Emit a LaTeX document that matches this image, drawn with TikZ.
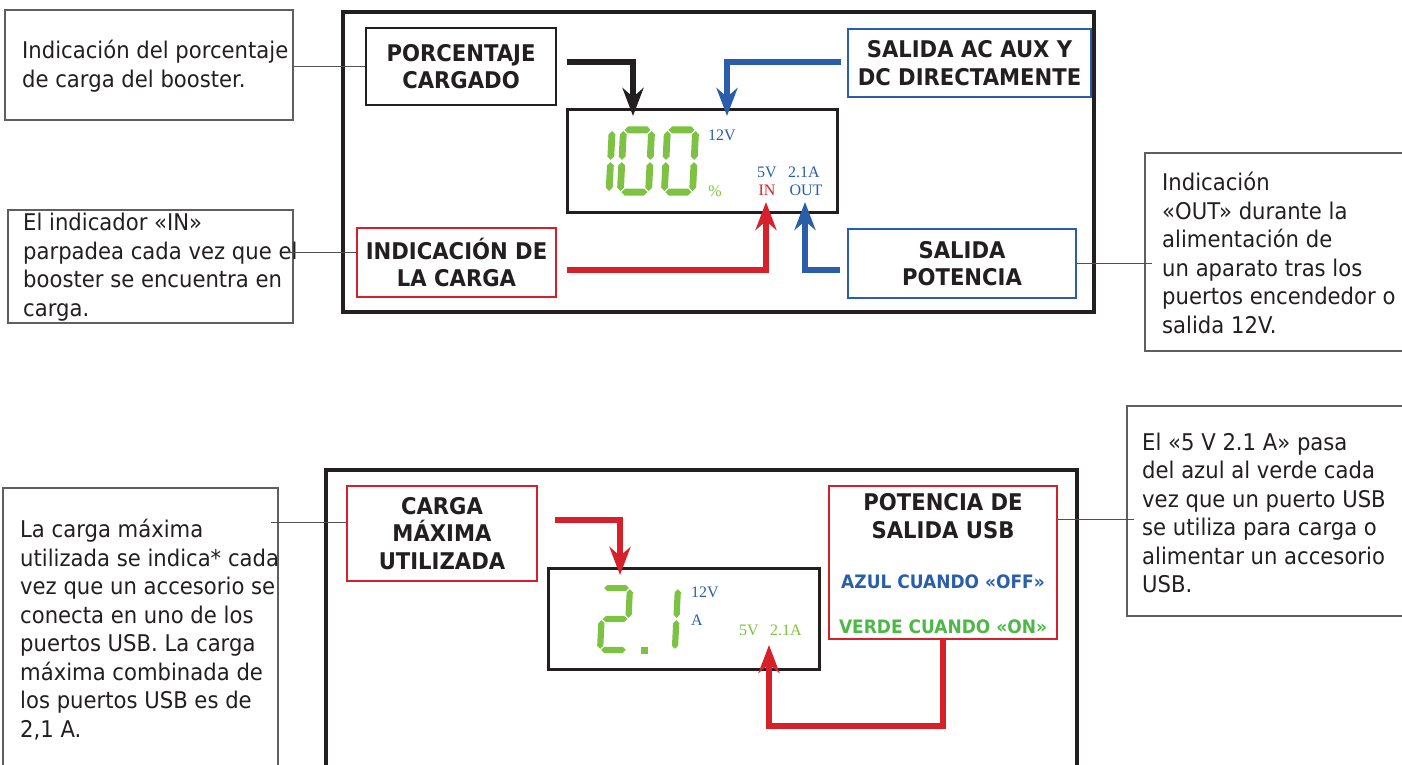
\documentclass[tikz,border=0pt]{standalone}
\usepackage{fontspec}
\setmainfont{DejaVu Sans}[FakeStretch=0.92]
\newfontfamily\serifdisp{Liberation Serif}
\usetikzlibrary{arrows.meta,calc}
\definecolor{lcdgreen}{RGB}{125,194,66}
\definecolor{myblue}{RGB}{42,94,170}
\definecolor{myred}{RGB}{215,33,42}
\definecolor{txtgreen}{RGB}{77,184,72}
\definecolor{txtblack}{RGB}{35,31,32}
\definecolor{boxgray}{RGB}{95,95,95}
\definecolor{leadgray}{RGB}{80,80,80}
\newcommand\sh{3.4}
\newcommand\dg{1.1}
\newcommand\dW{17.5}
\newcommand\dH{34.5}
\newcommand\hseg[3]{\fill[lcdgreen] (#1,#3) -- (#1+\sh,#3-\sh) -- (#2-\sh,#3-\sh) -- (#2,#3) -- (#2-\sh,#3+\sh) -- (#1+\sh,#3+\sh) -- cycle;}
\newcommand\vseg[3]{\fill[lcdgreen] (#1,#2) -- (#1+\sh,#2+\sh) -- (#1+\sh,#3-\sh) -- (#1,#3) -- (#1-\sh,#3-\sh) -- (#1-\sh,#2+\sh) -- cycle;}
\newcommand\sga{\hseg{-\dW+\sh+\dg}{\dW-\sh-\dg}{-\dH+\sh}}
\newcommand\sgb{\vseg{\dW-\sh}{-\dH+\sh+\dg}{-\dg}}
\newcommand\sgc{\vseg{\dW-\sh}{\dg}{\dH-\sh-\dg}}
\newcommand\sgd{\hseg{-\dW+\sh+\dg}{\dW-\sh-\dg}{\dH-\sh}}
\newcommand\sge{\vseg{-\dW+\sh}{\dg}{\dH-\sh-\dg}}
\newcommand\sgf{\vseg{-\dW+\sh}{-\dH+\sh+\dg}{-\dg}}
\newcommand\sgg{\hseg{-\dW+\sh+\dg}{\dW-\sh-\dg}{0}}
\begin{document}
\begin{tikzpicture}[x=1pt,y=-1pt,
 bodytxt/.style={font=\fontsize{23}{28.5}\selectfont, text=txtblack, align=left, inner sep=0, anchor=west},
 txtbox/.style={draw=boxgray, line width=1.2pt, inner sep=0},
 lbl/.style={line width=2pt, font=\bfseries\fontsize{23}{27.5}\selectfont, text=txtblack, align=center, inner sep=0},
 disp/.style={draw=txtblack, line width=3pt, inner sep=0},
 frm/.style={draw=txtblack, line width=4pt},
 leader/.style={draw=leadgray, line width=1pt},
 arr/.style={line width=5.5pt, -{Stealth[length=28pt,width=21pt,inset=9pt]}},
 dtxt/.style={font=\serifdisp\fontsize{16}{16}\selectfont, inner sep=0},
 subtxt/.style={font=\bfseries\fontsize{18.5}{21}\selectfont, inner sep=0},
]
\useasboundingbox (0,0) rectangle (1402,765);
\fill[white] (0,0) rectangle (1402,765);

% ---------- top panel ----------
\draw[frm] (343,12) rectangle (1094,312);
\node[txtbox, minimum width=288pt, minimum height=110pt] (t1) at (149,65) {};
\node[bodytxt] (t1txt) at (22,66) {Indicación del porcentaje\\de carga del booster.};
\node[txtbox, minimum width=285pt, minimum height=113pt] (t2) at (150.5,266.5) {};
\node[bodytxt] (t2txt) at (23,267) {El indicador «IN»\\parpadea cada vez que el\\booster se encuentra en\\carga.};
\node[txtbox, minimum width=275pt, minimum height=198pt] (t3) at (1282.5,252) {};
\node[bodytxt] (t3txt) at (1162,253) {Indicación\\«OUT» durante la\\alimentación de\\un aparato tras los\\puertos encendedor o\\salida 12V.};

\node[lbl, draw=txtblack, minimum width=190pt, minimum height=77pt] (pc) at (461,66.5) {PORCENTAJE\\CARGADO};
\node[lbl, draw=myblue, minimum width=243pt, minimum height=68pt] (ac) at (969.5,63) {SALIDA AC AUX Y\\DC DIRECTAMENTE};
\node[lbl, draw=myred, minimum width=199pt, minimum height=69pt] (ic) at (456.5,262.5) {INDICACIÓN DE\\LA CARGA};
\node[lbl, draw=myblue, minimum width=228pt, minimum height=69pt] (sp) at (962,263.5) {SALIDA\\POTENCIA};

\draw[leader] (t1.east |- 0,67) -- (pc.west |- 0,67);
\draw[leader] ($(t2.east)+(-6,-14.5)$) -- ($(ic.west)+(0,-10.5)$);
\draw[leader] (sp.east) -- ($(sp.east -| t3.west)+(8,0)$);

\node[disp, minimum width=270pt, minimum height=102pt] (d1) at (702,161) {};
\begin{scope}[shift={(596.5,161)}, xslant=0.05]
 \sgb \sgc
\end{scope}
\begin{scope}[shift={(636,161)}, xslant=0.05]
 \sga \sgb \sgc \sgd \sge \sgf
\end{scope}
\begin{scope}[shift={(680,161)}, xslant=0.05]
 \sga \sgb \sgc \sgd \sge \sgf
\end{scope}
\node[dtxt, text=myblue] (v12a) at (722,135) {12V};
\node[dtxt, text=lcdgreen] (pct) at (715,191) {\%};
\node[dtxt, text=myblue] (v5a) at (767,172) {5V};
\node[dtxt, text=myblue] (a21a) at (804,172) {2.1A};
\node[dtxt, text=myred] (inl) at (767,190) {IN};
\node[dtxt, text=myblue] (outl) at (806,190) {OUT};

\coordinate (tipA) at (633,116);
\coordinate (tipB) at (727,116);
\coordinate (tipC) at (766,202);
\coordinate (tipD) at (805,202);
\draw[arr, color=txtblack] ($(pc.east)+(10,-4.5)$) -| (tipA);
\draw[arr, color=myblue] ($(ac.west)+(-6,-1)$) -| (tipB);
\draw[arr, color=myred] ($(ic.east)+(10,7.5)$) -| (tipC);
\draw[arr, color=myblue] ($(sp.west)+(-7,6.5)$) -| (tipD);

% ---------- bottom panel ----------
\draw[frm] (326,790) -- (326,470) -- (1077,470) -- (1077,790);
\node[txtbox, minimum width=275pt, minimum height=302pt] (t4) at (140.5,639) {};
\node[bodytxt] (t4txt) at (20,629.5) {La carga máxima\\utilizada se indica* cada\\vez que un accesorio se\\conecta en uno de los\\puertos USB. La carga\\máxima combinada de\\los puertos USB es de\\2,1 A.};
\node[txtbox, minimum width=293pt, minimum height=210pt] (t5) at (1273.5,511) {};
\node[bodytxt] (t5txt) at (1142,513) {El «5 V 2.1 A» pasa\\del azul al verde cada\\vez que un puerto USB\\se utiliza para carga o\\alimentar un accesorio\\USB.};

\node[lbl, draw=myred, minimum width=190pt, minimum height=95pt] (cm) at (442,533.5) {CARGA\\MÁXIMA\\UTILIZADA};
\node[lbl, draw=myred, minimum width=228pt, minimum height=153pt] (ps) at (943,562.5) {};
\node[lbl] (pstitle) at (943,516) {POTENCIA DE\\SALIDA USB};
\node[subtxt, text=myblue] (azul) at (943,582) {AZUL CUANDO «OFF»};
\node[subtxt, text=txtgreen] (verde) at (943,627) {VERDE CUANDO «ON»};

\draw[leader] ($(t4.east |- cm.west)+(-8,-11.5)$) -- ($(cm.west)+(0,-11.5)$);
\draw[leader] ($(ps.east)+(0,-43.5)$) -- ($(ps.east -| t5.west)+(8,-43.5)$);

\node[disp, minimum width=271pt, minimum height=101pt] (d2) at (683.5,618.5) {};
\renewcommand\dW{16.5}
\renewcommand\dH{34}
\renewcommand\sh{3.1}
\begin{scope}[shift={(615,619)}, xslant=0.05]
 \sga \sgb \sgg \sge \sgd
\end{scope}
\fill[lcdgreen] (641,647) rectangle (648,654);
\begin{scope}[shift={(663,619)}, xslant=0.05]
 \sgb \sgc
\end{scope}
\node[dtxt, text=myblue] (v12b) at (705,592) {12V};
\node[dtxt, text=myblue] (ab) at (697,620) {A};
\node[dtxt, text=lcdgreen] (v5b) at (749,630) {5V};
\node[dtxt, text=lcdgreen] (a21b) at (786,630) {2.1A};

\coordinate (tipE) at (620,575);
\coordinate (tipF) at (769,645);
\draw[arr, color=myred] ($(cm.east)+(17,-13.5)$) -| (tipE);
\draw[arr, color=myred] (ps.south) -- ++(0,86) -| (tipF);
\end{tikzpicture}
\end{document}
